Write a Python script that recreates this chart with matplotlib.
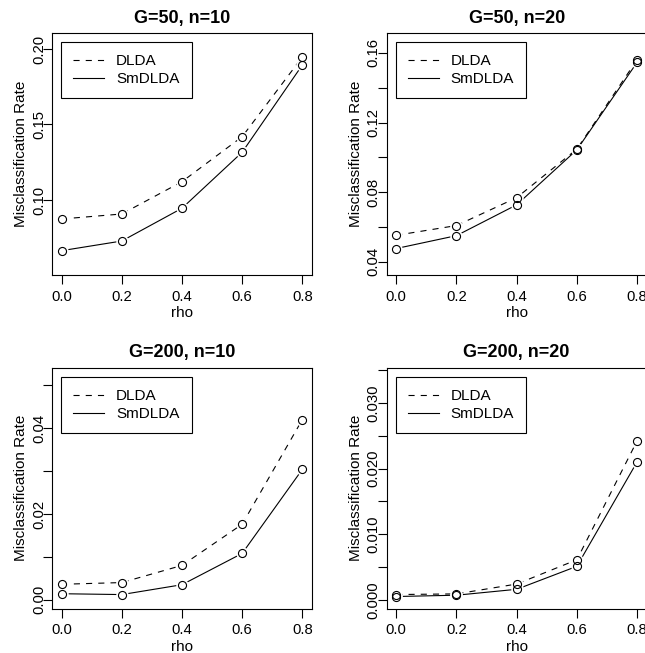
import matplotlib
matplotlib.use("Agg")
import matplotlib.pyplot as plt
from matplotlib.ticker import FixedLocator, FixedFormatter

plt.rcParams['font.family'] = ['Liberation Sans', 'DejaVu Sans']

rho = [0.0, 0.2, 0.4, 0.6, 0.8]

titles = ["G=50, n=10", "G=50, n=20", "G=200, n=10", "G=200, n=20"]

dlda = [
    [0.0874, 0.0907, 0.1121, 0.1419, 0.1947],
    [0.0553, 0.0609, 0.0769, 0.1048, 0.1561],
    [0.0036, 0.0040, 0.0080, 0.0176, 0.0420],
    [0.0008, 0.0009, 0.0024, 0.0061, 0.0242],
]
smdlda = [
    [0.0664, 0.0728, 0.0945, 0.1316, 0.1894],
    [0.0477, 0.0551, 0.0728, 0.1044, 0.1546],
    [0.0014, 0.0012, 0.0035, 0.0108, 0.0304],
    [0.0005, 0.0007, 0.0016, 0.0051, 0.0210],
]

ylims = [(0.0503, 0.2106), (0.0325, 0.1715), (-0.0021, 0.0541), (-0.00136, 0.03536)]
yticks = [
    [0.10, 0.15, 0.20],
    [0.04, 0.06, 0.08, 0.10, 0.12, 0.14, 0.16],
    [0.00, 0.01, 0.02, 0.03, 0.04, 0.05],
    [0.000, 0.005, 0.010, 0.015, 0.020, 0.025, 0.030, 0.035],
]
ylabels = [
    ["0.10", "0.15", "0.20"],
    ["0.04", "", "0.08", "", "0.12", "", "0.16"],
    ["0.00", "", "0.02", "", "0.04", ""],
    ["0.000", "", "0.010", "", "0.020", "", "0.030", ""],
]

# axes boxes in figure fractions (left, bottom, width, height)
boxes = [
    (0.0806, 0.5789, 0.4031, 0.3706),
    (0.5995, 0.5789, 0.4031, 0.3706),
    (0.0806, 0.0678, 0.4031, 0.3691),
    (0.5995, 0.0678, 0.4031, 0.3691),
]

fig = plt.figure(figsize=(6.45, 6.53), dpi=100)

for k in range(4):
    ax = fig.add_axes(boxes[k])
    ax.plot(rho, dlda[k], color='black', lw=0.8, dashes=(5.5, 5.5), label='DLDA')
    ax.plot(rho, smdlda[k], color='black', lw=0.8, label='SmDLDA')
    # white discs give the gap around each point (like R type="b")
    for ys in (dlda[k], smdlda[k]):
        ax.plot(rho, ys, ls='none', marker='o', ms=9, mfc='white', mec='none')
    for ys in (dlda[k], smdlda[k]):
        ax.plot(rho, ys, ls='none', marker='o', ms=5.8, mfc='none', mec='black', mew=0.8)

    ax.set_xlim(-0.032, 0.832)
    ax.set_ylim(*ylims[k])
    ax.set_xticks(rho)
    ax.set_xticklabels(["0.0", "0.2", "0.4", "0.6", "0.8"])
    ax.yaxis.set_major_locator(FixedLocator(yticks[k]))
    ax.yaxis.set_major_formatter(FixedFormatter(ylabels[k]))
    for lab in ax.get_yticklabels():
        lab.set_rotation(90)
        lab.set_va('center')
    ax.tick_params(direction='out', length=6.5, width=0.8, labelsize=10.7, colors='black')
    ax.tick_params(axis='x', pad=4)
    ax.tick_params(axis='y', pad=-2.3)
    for s in ax.spines.values():
        s.set_linewidth(0.8)
        s.set_color('black')

    ax.set_xlabel('rho', fontsize=11, labelpad=2)
    ax.set_ylabel('Misclassification Rate', fontsize=11, labelpad=3)
    ax.set_title(titles[k], fontsize=13, fontweight='bold', pad=7.5)

    leg = ax.legend(loc='upper left', fontsize=11, fancybox=False, framealpha=1,
                    edgecolor='black', handlelength=2.0, handletextpad=0.8,
                    borderpad=0.8, labelspacing=0.25, borderaxespad=0.6)
    leg.get_frame().set_linewidth(0.8)

fig.savefig('out.png', dpi=100)
